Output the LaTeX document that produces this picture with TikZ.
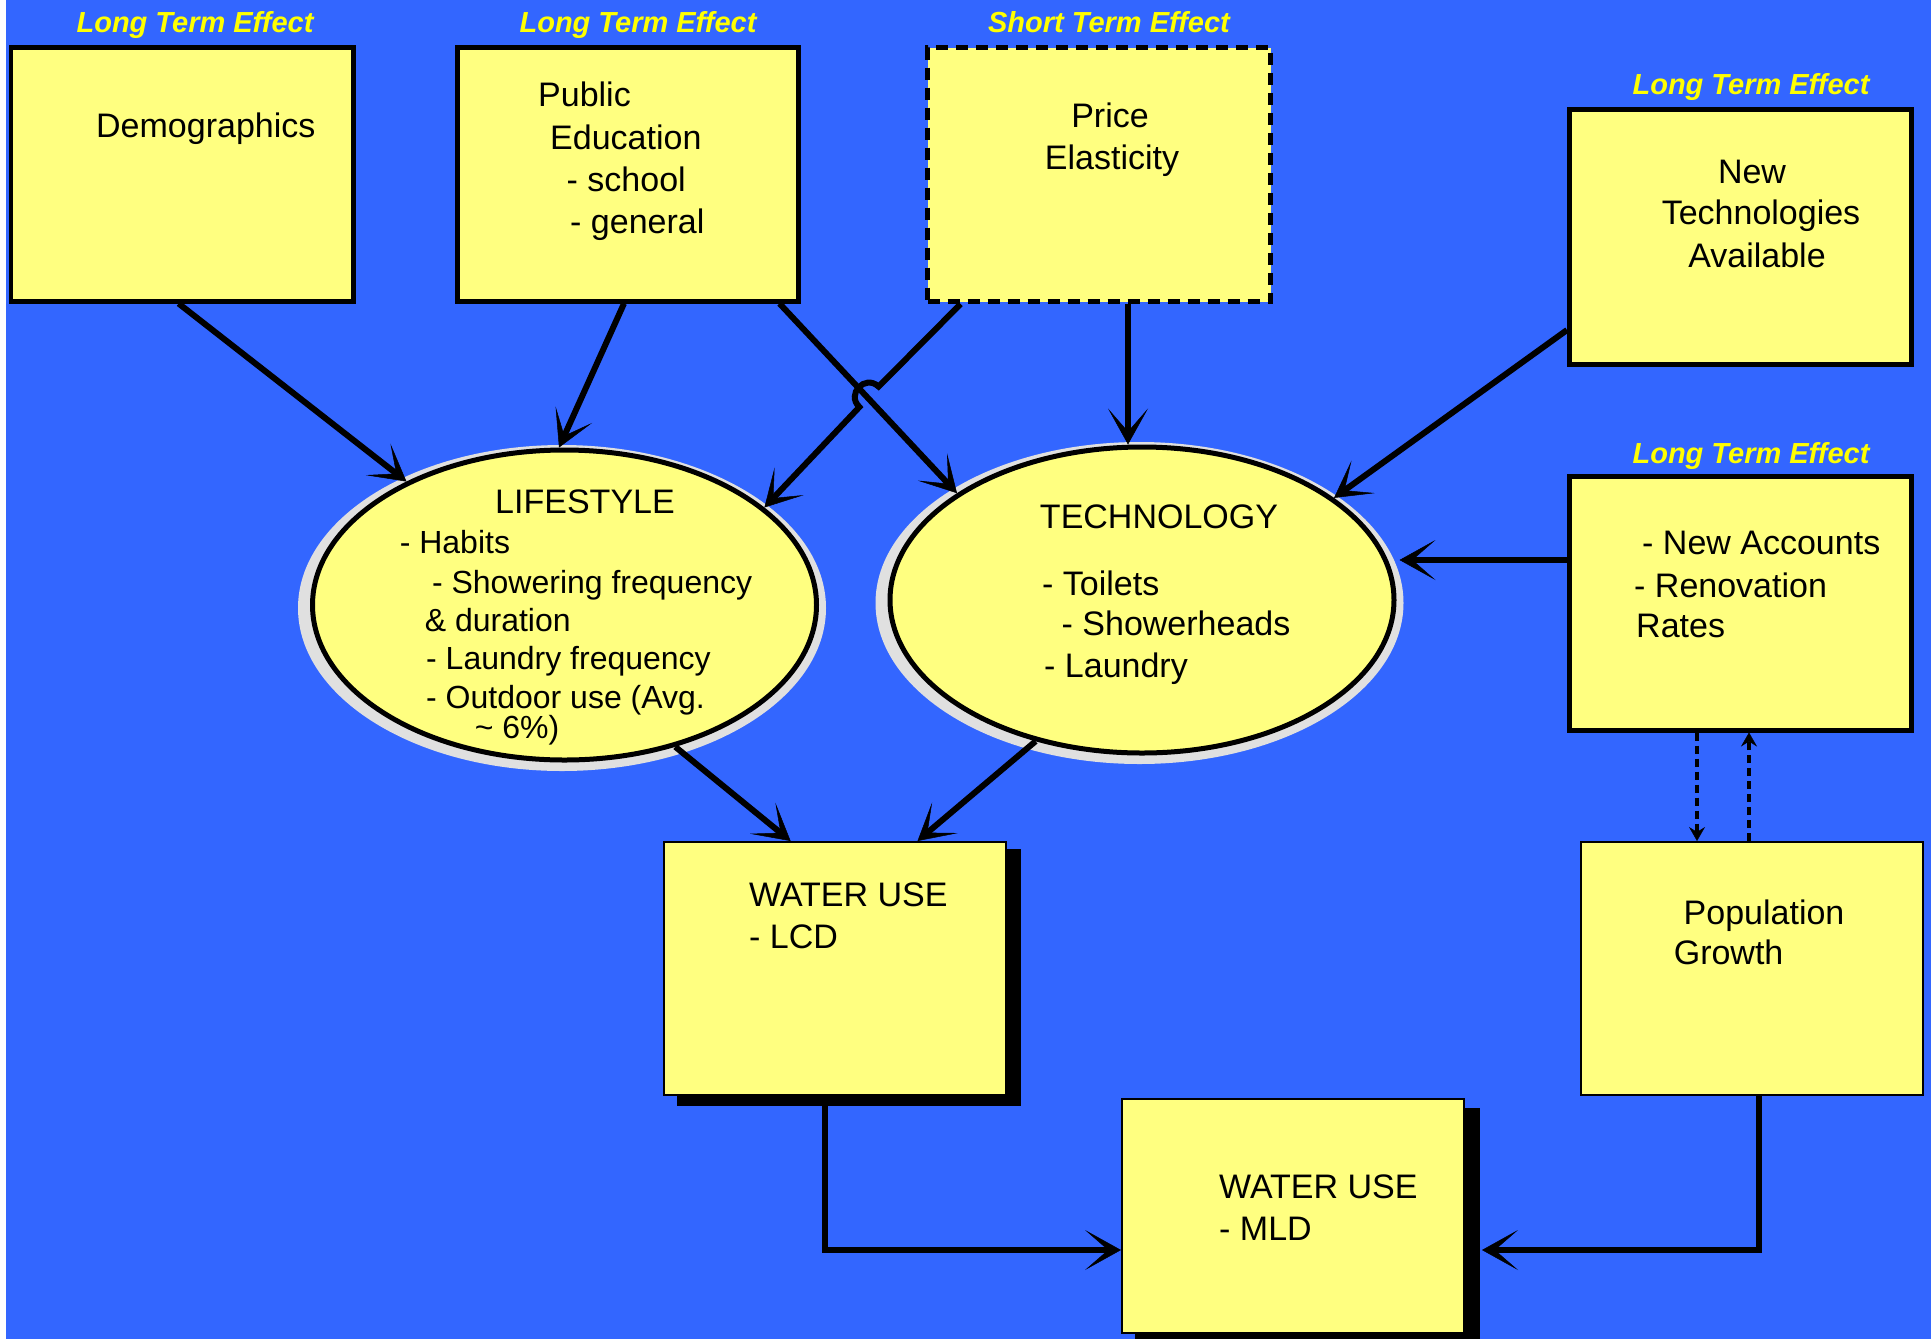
\documentclass[tikz,border=0pt]{standalone}
\usepackage{fontspec}
\setmainfont{Liberation Sans}
\usetikzlibrary{shapes.geometric,arrows.meta,calc}
\definecolor{bgblue}{HTML}{3366FF}
\definecolor{boxyellow}{HTML}{FFFF80}
\definecolor{halogrey}{HTML}{E0E0E0}
\definecolor{lblyellow}{HTML}{FFFF00}
\begin{document}
\begin{tikzpicture}[x=1pt,y=-1pt,
  box/.style={rectangle, draw=black, fill=boxyellow, line width=4.5pt, inner sep=0pt, anchor=north west},
  thinbox/.style={rectangle, draw=black, fill=boxyellow, line width=2pt, inner sep=0pt, anchor=north west},
  dashbox/.style={rectangle, draw=black, fill=boxyellow, line width=5pt, dash pattern=on 12pt off 8pt, inner sep=0pt, anchor=north west},
  oval/.style={ellipse, draw=black, fill=boxyellow, line width=5pt, inner sep=0pt},
  txt/.style={font=\fontsize{34}{40}\selectfont, inner sep=0pt, anchor=mid west, yshift=-9pt},
  ctxt/.style={txt, anchor=mid},
  stxt/.style={font=\fontsize{32}{38}\selectfont, inner sep=0pt, anchor=mid west, yshift=-9pt},
  lbl/.style={font=\fontsize{29}{34}\selectfont\bfseries\itshape, text=lblyellow, inner sep=0pt, anchor=mid, yshift=-8pt},
  arr/.style={line width=6pt, -{Stealth[length=36pt, width=40pt, inset=23pt, line width=0.5pt]}},
  dotarr/.style={line width=3.5pt, dash pattern=on 8pt off 5pt, -{Stealth[length=14pt, width=16pt, inset=5pt, line width=0.5pt]}}
]
\useasboundingbox (0,0) rectangle (1931,1339);
\fill[white] (0,0) rectangle (1931,1339);
\fill[bgblue] (6,0) rectangle (1931,1339);

% shadows and halos
\fill[black] (677,849) rectangle (1021,1106);
\fill[black] (1135,1108) rectangle (1480,1345);
\fill[halogrey] (562,608) ellipse [x radius=264pt, y radius=163pt];
\fill[halogrey] (1139.5,603) ellipse [x radius=264pt, y radius=161pt];

% boxes
\node[box, minimum width=342.4pt, minimum height=254pt] (demo) at (8.6,45) {};
\node[box, minimum width=341pt, minimum height=254pt] (pubed) at (455,45) {};
\node[dashbox, minimum width=343pt, minimum height=254pt] (price) at (925,45) {};
\node[box, minimum width=342pt, minimum height=255pt] (newtech) at (1567,107) {};
\node[box, minimum width=342pt, minimum height=254pt] (newacc) at (1567,474) {};
\node[thinbox, minimum width=342pt, minimum height=253pt] (pop) at (1580,841) {};
\node[thinbox, minimum width=342pt, minimum height=253pt] (lcd) at (663,841) {};
\node[thinbox, minimum width=342pt, minimum height=234pt] (mld) at (1121,1098) {};

% ellipses
\node[oval, minimum width=504pt, minimum height=310pt] (life) at (564.5,605) {};
\node[oval, minimum width=504pt, minimum height=306pt] (tech) at (1142,600) {};

% effect labels
\node[lbl] (l1) at (195,22) {Long Term Effect};
\node[lbl] (l2) at (638,22) {Long Term Effect};
\node[lbl] (l3) at (1109,22) {Short Term Effect};
\node[lbl] (l4) at (1751,84) {Long Term Effect};
\node[lbl] (l5) at (1751,453) {Long Term Effect};

% box texts
\node[txt] (tdemo) at (96,126) {Demographics};
\node[txt] (tpub1) at (538,95) {Public};
\node[txt] (tpub2) at (550,138) {Education};
\node[txt] (tpub3) at (566.5,180) {- school};
\node[txt] (tpub4) at (570,222) {- general};
\node[ctxt] (tpr1) at (1110,116) {Price};
\node[ctxt] (tpr2) at (1112,158) {Elasticity};
\node[ctxt] (tnt1) at (1752,172) {New};
\node[ctxt] (tnt2) at (1761,213) {Technologies};
\node[ctxt] (tnt3) at (1757,256) {Available};
\node[txt] (tna1) at (1642,543) {- New Accounts};
\node[txt] (tna2) at (1634,586) {- Renovation};
\node[txt] (tna3) at (1636,626) {Rates};
\node[txt] (tpop1) at (1683.5,912.5) {Population};
\node[txt] (tpop2) at (1673.6,953) {Growth};
\node[txt] (tlcd1) at (749,895) {WATER USE};
\node[txt] (tlcd2) at (749,937) {- LCD};
\node[txt] (tmld1) at (1219,1187) {WATER USE};
\node[txt] (tmld2) at (1219,1229) {- MLD};

% lifestyle texts
\node[ctxt] (tl0) at (585,502) {LIFESTYLE};
\node[stxt] (tl1) at (399.6,541.7) {- Habits};
\node[stxt] (tl2) at (431.8,581.7) {- Showering frequency};
\node[stxt] (tl3) at (424.6,620) {\& duration};
\node[stxt] (tl4) at (426,658) {- Laundry frequency};
\node[stxt] (tl5) at (426,696.7) {- Outdoor use (Avg.};
\node[stxt] (tl6) at (474.6,727) {\textasciitilde\ 6\%)};

% technology texts
\node[ctxt] (tt0) at (1159,517) {TECHNOLOGY};
\node[txt] (tt1) at (1042,584) {- Toilets};
\node[txt] (tt2) at (1061.5,624) {- Showerheads};
\node[txt] (tt3) at (1044,666) {- Laundry};

% connectors
\coordinate (s1) at ([xshift=170pt]demo.south west);
\draw[arr] (s1) -- (life.142);
\coordinate (s2) at ([xshift=169pt]pubed.south west);
\draw[arr] (s2) -- (life.92);
\coordinate (s3) at ([xshift=324.5pt]pubed.south west);
\draw[arr] (s3) -- (tech.150);
\coordinate (s4) at ([xshift=35.6pt]price.south west);
\coordinate (hA) at (878.6,386.6);
\coordinate (hB) at (859.4,407);
\draw[arr] (s4) -- (hA) .. controls (865,373.8) and (845.8,394.2) .. (hB) -- (life.26);
\coordinate (s5) at ([xshift=203pt]price.south west);
\draw[arr] (s5) -- (s5 |- tech.north);
\coordinate (s6) at ([yshift=-223pt]newtech.north west);
\draw[arr] (s6) -- (tech.28);
\coordinate (s7) at ([yshift=-86pt]newacc.north west);
\draw[arr, shorten >=3pt] (s7) -- (s7 -| tech.east);
\coordinate (e8) at ([xshift=127.6pt]lcd.north west);
\draw[arr] (life.-52) -- (e8);
\coordinate (e9) at ([xshift=254.5pt]lcd.north west);
\draw[arr] (tech.-127) -- (e9);
\coordinate (s10) at ([xshift=162pt]lcd.south west);
\coordinate (e10) at ([yshift=-34pt]mld.west);
\draw[arr] (s10) |- (e10);
\coordinate (s11) at ([xshift=178.6pt]pop.south west);
\coordinate (e11) at ([xshift=17pt,yshift=-34pt]mld.east);
\draw[arr] (s11) |- (e11);
\coordinate (s12) at ([xshift=130pt]newacc.south west);
\draw[dotarr] (s12) -- (s12 |- pop.north);
\coordinate (s13) at ([xshift=169pt]pop.north west);
\draw[dotarr] (s13) -- (s13 |- newacc.south);
\end{tikzpicture}
\end{document}
